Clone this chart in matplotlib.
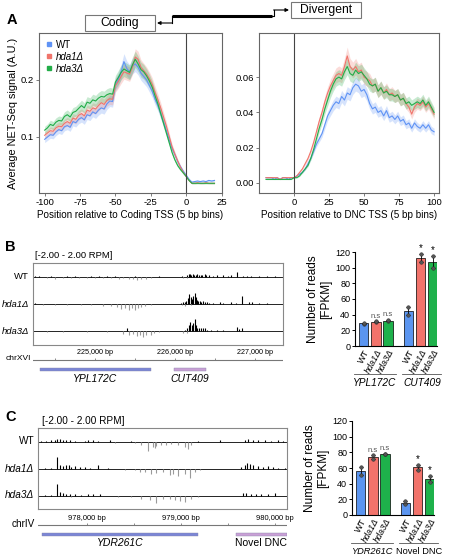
import matplotlib
matplotlib.use("Agg")
import matplotlib.pyplot as plt
import matplotlib.transforms as mtrans
from matplotlib.lines import Line2D
import numpy as np

plt.rcParams['font.family'] = ['Liberation Sans', 'DejaVu Sans']
plt.rcParams['axes.unicode_minus'] = False

# ---------------- data ----------------
strains = ['WT', 'hda1Δ', 'hda3Δ']
colors = ['#5f93f5', '#f0746b', '#22ad48']
bar_colors = ['#5b95f0', '#f2736b', '#1eb14b']

coding_bins = np.arange(-100, 21, 2)
coding_wt = [0.096, 0.100, 0.104, 0.103, 0.109, 0.113, 0.111, 0.118, 0.120, 0.117,
             0.127, 0.125, 0.131, 0.134, 0.130, 0.139, 0.137, 0.144, 0.141, 0.147,
             0.151, 0.149, 0.158, 0.163, 0.162, 0.192, 0.200, 0.214, 0.232, 0.220,
             0.214, 0.224, 0.228, 0.222, 0.212, 0.206, 0.200, 0.190, 0.180, 0.166,
             0.155, 0.141, 0.126, 0.111, 0.095, 0.080, 0.069, 0.057, 0.048, 0.040,
             0.033, 0.026, 0.021, 0.022, 0.023, 0.022, 0.023, 0.022, 0.024, 0.023, 0.024]
coding_hda1 = [0.103, 0.107, 0.111, 0.110, 0.116, 0.119, 0.118, 0.124, 0.127, 0.124,
               0.133, 0.131, 0.138, 0.141, 0.137, 0.147, 0.145, 0.151, 0.149, 0.155,
               0.160, 0.157, 0.164, 0.167, 0.166, 0.190, 0.197, 0.206, 0.214, 0.212,
               0.210, 0.222, 0.240, 0.236, 0.222, 0.216, 0.210, 0.202, 0.192, 0.178,
               0.165, 0.151, 0.135, 0.119, 0.101, 0.083, 0.070, 0.058, 0.047, 0.038,
               0.031, 0.024, 0.019, 0.019, 0.020, 0.019, 0.019, 0.020, 0.019, 0.019, 0.019]
coding_hda3 = [0.112, 0.116, 0.122, 0.120, 0.126, 0.129, 0.128, 0.136, 0.139, 0.135,
               0.143, 0.145, 0.150, 0.155, 0.151, 0.161, 0.159, 0.165, 0.163, 0.168,
               0.171, 0.170, 0.174, 0.176, 0.175, 0.196, 0.204, 0.213, 0.219, 0.216,
               0.213, 0.226, 0.236, 0.228, 0.218, 0.214, 0.207, 0.198, 0.187, 0.172,
               0.158, 0.141, 0.124, 0.107, 0.090, 0.073, 0.060, 0.050, 0.043, 0.037,
               0.031, 0.024, 0.019, 0.019, 0.019, 0.019, 0.019, 0.019, 0.019, 0.019, 0.019]

dnc_bins = np.arange(-20, 101, 2)
dnc_wt = [0.003, 0.003, 0.003, 0.002, 0.003, 0.002, 0.003, 0.003, 0.002, 0.003,
          0.003, 0.004, 0.005, 0.006, 0.008, 0.011, 0.014, 0.018, 0.022, 0.025,
          0.028, 0.033, 0.038, 0.041, 0.044, 0.046, 0.045, 0.049, 0.047, 0.051,
          0.050, 0.054, 0.056, 0.055, 0.052, 0.053, 0.050, 0.045, 0.042, 0.043,
          0.040, 0.041, 0.038, 0.041, 0.037, 0.038, 0.036, 0.038, 0.035, 0.036,
          0.033, 0.034, 0.031, 0.034, 0.032, 0.031, 0.033, 0.031, 0.033, 0.030, 0.029]
dnc_hda1 = [0.003, 0.003, 0.003, 0.003, 0.003, 0.002, 0.003, 0.003, 0.003, 0.003,
            0.003, 0.004, 0.006, 0.008, 0.011, 0.014, 0.018, 0.023, 0.029, 0.035,
            0.040, 0.046, 0.051, 0.055, 0.058, 0.061, 0.062, 0.061, 0.066, 0.072,
            0.066, 0.064, 0.066, 0.063, 0.064, 0.060, 0.059, 0.058, 0.055, 0.056,
            0.052, 0.054, 0.051, 0.053, 0.050, 0.051, 0.049, 0.050, 0.047, 0.048,
            0.045, 0.043, 0.039, 0.043, 0.045, 0.044, 0.046, 0.043, 0.045, 0.042, 0.039]
dnc_hda3 = [0.002, 0.002, 0.002, 0.002, 0.002, 0.002, 0.002, 0.002, 0.002, 0.002,
            0.003, 0.003, 0.004, 0.006, 0.008, 0.010, 0.014, 0.019, 0.025, 0.031,
            0.036, 0.042, 0.047, 0.052, 0.056, 0.059, 0.060, 0.059, 0.063, 0.066,
            0.062, 0.061, 0.064, 0.062, 0.063, 0.061, 0.059, 0.056, 0.055, 0.056,
            0.052, 0.054, 0.051, 0.052, 0.050, 0.050, 0.049, 0.050, 0.047, 0.048,
            0.045, 0.046, 0.044, 0.045, 0.046, 0.045, 0.047, 0.044, 0.046, 0.043, 0.040]

# genome browser tracks: (bp position, RPM)
b_wt = [(224250, 0.15), (224300, 0.1), (224400, -0.15), (224450, 0.06), (224500, -0.3),
        (224600, -0.2), (224650, 0.08), (224700, -0.15), (224750, 0.05), (224800, -0.2),
        (224900, -0.15), (224950, 0.06), (225000, -0.2), (225050, 0.08), (225100, -0.15),
        (225150, 0.06), (225200, -0.25), (225250, 0.07), (225300, -0.3), (225350, -0.2),
        (225420, -0.4), (225480, -0.3), (225500, 0.08), (225530, -0.5), (225580, -0.35),
        (225640, -0.3), (225700, -0.2), (225800, 0.06), (226090, 0.12), (226100, -0.15),
        (226150, 0.2), (226155, -0.25), (226170, 0.35), (226185, 0.45), (226200, 0.3),
        (226220, 0.35), (226240, 0.3), (226260, 0.3), (226280, 0.35), (226300, 0.3),
        (226320, 0.3), (226340, 0.25), (226370, 0.4), (226390, 0.3), (226430, 0.2),
        (226480, 0.15), (226500, -0.1), (226530, 0.2), (226600, 0.25), (226660, 0.15),
        (226700, 0.2), (226770, 0.75), (226800, -0.1), (226850, 0.1), (226900, 0.15),
        (226950, 0.1), (227050, 0.1), (227100, -0.1), (227150, 0.1), (227250, 0.1)]
b_hda1 = [(224250, 0.1), (224350, -0.1), (224420, 0.05), (224500, -0.15), (224650, -0.1),
          (224800, 0.06), (224820, -0.15), (224950, -0.2), (225020, 0.05), (225100, -0.25),
          (225200, -0.3), (225280, -0.5), (225330, -0.7), (225380, -0.6), (225420, -0.85),
          (225460, -0.65), (225500, -0.9), (225540, -0.6), (225580, -0.5), (225600, 0.05),
          (225630, -0.35), (225700, -0.2), (225850, 0.05), (226080, 0.1), (226090, -0.2),
          (226100, 0.25), (226120, 0.3), (226130, -0.35), (226140, 0.5), (226160, 0.9),
          (226180, 1.45), (226195, 1.0), (226200, -0.15), (226210, 0.8), (226230, 1.25),
          (226246, 1.7), (226260, 1.1), (226275, 0.6), (226290, 0.45), (226310, 0.4),
          (226330, 0.35), (226350, 0.4), (226370, 0.3), (226400, 0.25), (226430, 0.2),
          (226470, 0.15), (226560, 0.25), (226600, 0.15), (226700, 0.35), (226760, 0.15),
          (226837, 1.2), (226920, 0.25), (226960, 0.3), (227050, 0.1), (227150, 0.1)]
b_hda3 = [(224250, 0.1), (224400, -0.1), (224500, 0.05), (224600, -0.1), (224700, 0.05),
          (224900, -0.1), (225100, 0.05), (225150, -0.15), (225350, -0.35), (225400, 0.45),
          (225420, -0.5), (225470, -0.4), (225520, -0.7), (225560, -0.55), (225600, -0.8),
          (225640, -0.5), (225700, -0.6), (225740, -0.3), (225800, -0.15), (226080, 0.1),
          (226100, -0.2), (226120, 0.25), (226150, 0.55), (226155, -0.3), (226170, 0.9),
          (226192, 1.45), (226210, 0.9), (226230, 1.2), (226246, 1.85), (226265, 0.9),
          (226280, 0.5), (226300, 0.55), (226320, 0.45), (226345, 0.5), (226370, 0.45),
          (226400, 0.2), (226450, 0.15), (226520, 0.15), (226600, 0.2), (226780, 0.6),
          (226800, 0.35), (226840, 0.5), (226900, 0.1), (227000, 0.1), (227150, 0.1)]

c_wt = [(977514, 0.1), (977568, 0.15), (977621, 0.2), (977656, 0.3), (977685, 0.4),
        (977709, 0.35), (977745, 0.3), (977780, 0.25), (977816, 0.2), (977869, 0.15),
        (977975, 0.15), (978011, 0.3), (978064, 0.2), (978117, 0.15), (978241, 0.2),
        (978295, -0.3), (978472, 0.1), (978507, -0.2), (978578, -0.5), (978649, -1.5),
        (978702, -0.9), (978720, -1.0), (978738, -0.7), (978791, -0.6), (978844, -0.5),
        (978897, -0.4), (978968, -0.5), (979039, -0.8), (979075, -1.1), (979110, -0.6),
        (979181, 0.1), (979412, 0.2), (979677, 0.3), (979713, 0.35), (979766, 0.25),
        (979819, 0.2), (979890, 0.2), (979961, 0.15), (980032, 0.2), (980085, 0.1)]
c_hda1 = [(977550, 0.1), (977621, 0.15), (977681, 1.7), (977709, 0.6), (977745, 0.4),
          (977780, 0.6), (977805, 0.5), (977834, 0.3), (977869, 0.35), (977922, 0.2),
          (977975, 0.2), (978029, 0.15), (978117, 0.5), (978224, 0.15), (978401, -0.2),
          (978507, -0.3), (978560, -0.6), (978614, -0.5), (978685, -0.9), (978738, -0.7),
          (978809, -0.6), (978880, -1.0), (978915, -0.8), (978968, -1.1), (979039, -0.9),
          (979092, -1.4), (979146, -0.5), (979199, -0.3), (979642, 0.3), (979677, 0.55),
          (979706, 0.9), (979731, 0.7), (979766, 0.5), (979819, 0.45), (979873, 0.3),
          (979926, 0.35), (979979, 0.25), (980032, 0.15), (980103, 0.1)]
c_hda3 = [(977550, 0.1), (977621, 0.15), (977681, 1.7), (977709, 0.5), (977745, 0.35),
          (977780, 0.3), (977816, 0.25), (977830, -0.3), (977869, 0.2), (977940, 0.15),
          (978011, 0.2), (978064, 0.2), (978135, 0.3), (978330, -0.2), (978472, -0.3),
          (978578, -0.5), (978667, -0.7), (978738, -1.2), (978809, -0.6), (978880, -0.5),
          (978933, -0.7), (978986, -0.9), (979039, -1.0), (979110, -0.5), (979181, -0.2),
          (979660, 0.35), (979695, 0.4), (979748, 0.3), (979802, 0.3), (979855, 0.25),
          (979926, 0.2), (979997, 0.35)]

b_genes = [('YPL172C', 224312, 225700, '#7b86d6'), ('CUT409', 225987, 226387, '#c9a0d6')]
c_genes = [('YDR261C', 977521, 979181, '#7b86d6'), ('Novel DNC', 979585, 980128, '#c9a0d6')]

# bar charts (FPKM), two replicates per bar
b_groups = ['YPL172C', 'CUT409']
b_reps = [[27.5, 30.0], [31.0, 31.5], [31.5, 33.5], [39.5, 50.0], [107.0, 118.0], [99.0, 115.0]]
c_groups = ['YDR261C', 'Novel DNC']
c_reps = [[51.0, 61.5], [71.5, 76.5], [77.5, 78.0], [13.6, 18.0], [57.5, 64.0], [41.7, 50.0]]

# ---------------- layout ----------------
W, H = 450, 559
fig = plt.figure(figsize=(4.5, 5.59), dpi=100)


def rect(x0, y0, x1, y1):
    return [x0 / W, 1 - y1 / H, (x1 - x0) / W, (y1 - y0) / H]


def profile(ax, x, series, frac):
    for name, y, c in zip(strains, series, colors):
        y = np.asarray(y)
        ax.fill_between(x, y * (1 - frac), y * (1 + frac), color=c, alpha=0.25, lw=0)
        ax.plot(x, y, color=c, lw=0.8, label=name)
    ax.axvline(0, color='#444444', lw=0.8)
    for s in ax.spines.values():
        s.set_color('#666666')
        s.set_linewidth(0.8)
    ax.tick_params(labelsize=6.8, length=2, width=0.6, color='#666666', pad=1.5)


axA1 = fig.add_axes(rect(39, 33, 222, 193))
profile(axA1, coding_bins, [coding_wt, coding_hda1, coding_hda3], 0.06)
axA1.set_xlim(-104, 25.3)
axA1.set_ylim(0.002, 0.282)
axA1.set_xticks([-100, -75, -50, -25, 0, 25])
axA1.set_yticks([0.1, 0.2])
axA1.set_ylabel('Average NET-Seq signal (A.U.)', fontsize=7.8, labelpad=2)
axA1.set_xlabel('Position relative to Coding TSS (5 bp bins)', fontsize=7.1, labelpad=2)
handles = [Line2D([], [], ls='', marker='s', ms=2.5, color=c) for c in colors]
leg = axA1.legend(handles, strains, loc='upper left', frameon=False, fontsize=7,
                  handlelength=0.6, handletextpad=0.4, labelspacing=0.2,
                  borderaxespad=0.3)
for t in leg.get_texts()[1:]:
    t.set_style('italic')

axA2 = fig.add_axes(rect(259, 33, 439, 193))
profile(axA2, dnc_bins, [dnc_wt, dnc_hda1, dnc_hda3], 0.07)
axA2.set_xlim(-25, 103.5)
axA2.set_ylim(-0.0057, 0.085)
axA2.set_xticks([0, 25, 50, 75, 100])
axA2.set_yticks([0.0, 0.02, 0.04, 0.06])
axA2.set_yticklabels(['0.00', '0.02', '0.04', '0.06'])
axA2.set_xlabel('Position relative to DNC TSS (5 bp bins)', fontsize=7.1, labelpad=2)


def tracks(ax, data, xlim, fs):
    row = 4.1
    tr = mtrans.blended_transform_factory(ax.transAxes, ax.transData)
    for i, (name, pairs) in enumerate(zip(strains, data)):
        base = -(i + 0.5) * row
        pos = np.array([p for p, v in pairs])
        val = np.array([v for p, v in pairs])
        ax.axhline(base, color='k', lw=0.6)
        up = val > 0
        ax.vlines(pos[up], base, base + val[up], color='k', lw=0.8)
        ax.vlines(pos[~up], base, base + val[~up], color='#9a9a9a', lw=0.8)
        ax.text(-0.015, base, name, transform=tr, ha='right', va='center', fontsize=fs,
                style='normal' if i == 0 else 'italic')
    ax.set_xlim(xlim)
    ax.set_ylim(-3 * row, 0)
    ax.set_xticks([])
    ax.set_yticks([])
    for s in ax.spines.values():
        s.set_color('#888888')
        s.set_linewidth(0.8)


def ruler(ax, xlim, majors, minors, genes, lab_y, fs_tick, fs_gene):
    ax.set_xlim(xlim)
    ax.set_ylim(40, 0)
    ax.axis('off')
    ax.plot(xlim, [11.5, 11.5], color='#777777', lw=0.8)
    ax.vlines(majors + minors, 10, 11.5, color='#777777', lw=0.6)
    for m in majors:
        ax.text(m, lab_y, f'{m:,} bp', ha='center', va='center', fontsize=fs_tick)
    for name, g0, g1, c in genes:
        ax.add_patch(plt.Rectangle((g0, 19.5), g1 - g0, 3, facecolor=c,
                                   edgecolor='#8888aa', lw=0.3))
        ax.text((g0 + g1) / 2, 30.5, name, ha='center', va='center', fontsize=fs_gene,
                style='normal' if name.startswith('Novel') else 'italic')


b_xlim = (224225, 227350)
axB = fig.add_axes(rect(33, 263, 283, 345))
tracks(axB, [b_wt, b_hda1, b_hda3], b_xlim, 6.8)
axBr = fig.add_axes(rect(33, 348, 283, 388))
ruler(axBr, b_xlim, [225000, 226000, 227000], [224500, 225500, 226500], b_genes,
      4.0, 5.2, 7.5)

c_xlim = (977479, 980128)
axC = fig.add_axes(rect(38, 428, 287, 509))
tracks(axC, [c_wt, c_hda1, c_hda3], c_xlim, 7.2)
axCr = fig.add_axes(rect(38, 513, 287, 553))
ruler(axCr, c_xlim, [978000, 979000, 980000], [978500, 979500], c_genes,
      5.5, 5.4, 7.5)


def bars(ax, reps, groups, marks, gfs):
    xpos = [0, 1, 2, 3.7, 4.7, 5.7]
    reps = np.array(reps)
    means = reps.mean(axis=1)
    sems = np.abs(reps[:, 1] - reps[:, 0]) / 2
    ax.bar(xpos, means, width=0.8, color=bar_colors * 2, edgecolor='k', lw=0.5, zorder=2)
    ax.errorbar(xpos, means, yerr=sems, fmt='none', ecolor='k', elinewidth=0.6,
                capsize=1.5, capthick=0.6, zorder=3)
    for x, r in zip(xpos, reps):
        ax.plot([x, x], r, 'o', ms=2.6, mfc='#555555', mec='#222222', mew=0.3, zorder=4)
    for x, m, s, mk in zip(xpos, means, sems, marks):
        if mk == 'n.s':
            ax.text(x, m + s + 2, 'n.s', ha='center', va='bottom', fontsize=5.5,
                    color='#555555')
        elif mk == '*':
            ax.text(x, m + s + 1, '*', ha='center', va='bottom', fontsize=7)
    ax.set_xlim(-0.7, 6.05)
    ax.set_ylim(0, 120)
    ax.set_yticks(range(0, 121, 20))
    ax.spines[['top', 'right']].set_visible(False)
    for s in ax.spines.values():
        s.set_linewidth(0.8)
    ax.tick_params(axis='y', labelsize=6.5, length=2.5, width=0.7, pad=1)
    ax.tick_params(axis='x', length=0, pad=1.5)
    ax.set_xticks(xpos)
    ax.set_xticklabels(strains * 2, rotation=62, ha='right', rotation_mode='anchor',
                       fontsize=6.5)
    for i, t in enumerate(ax.get_xticklabels()):
        if i % 3:
            t.set_style('italic')
    ax.set_ylabel('Number of reads\n[FPKM]', fontsize=8.5, labelpad=2, linespacing=1.1)
    tr = mtrans.blended_transform_factory(ax.transData, ax.transAxes)
    for (g0, g1), name in zip([(-0.8, 2.65), (3.2, 6.4)], groups):
        ax.plot([g0, g1], [-0.30, -0.30], color='#555555', lw=0.6, transform=tr,
                clip_on=False)
        ax.text((g0 + g1) / 2, -0.39, name, transform=tr, ha='center', va='center',
                fontsize=gfs, style='normal' if name.startswith('Novel') else 'italic')


axBb = fig.add_axes(rect(355, 252, 437, 346))
bars(axBb, b_reps, b_groups, ['', 'n.s', 'n.s', '', '*', '*'], 7.3)
axCb = fig.add_axes(rect(352, 421, 434, 515))
bars(axCb, c_reps, c_groups, ['', 'n.s', 'n.s', '', '*', '*'], 6.7)

# ---------------- overlay: letters, boxes, arrows ----------------
ov = fig.add_axes([0, 0, 1, 1])
ov.set_xlim(0, W)
ov.set_ylim(H, 0)
ov.axis('off')
for lab, x, y in [('A', 12, 20), ('B', 10, 247), ('C', 11, 417)]:
    ov.text(x, y, lab, fontsize=10.5, fontweight='bold', ha='center', va='center')
ov.text(35, 255, '[-2.00 - 2.00 RPM]', fontsize=6.8, va='center')
ov.text(42, 421, '[-2.00 - 2.00 RPM]', fontsize=7.2, va='center')
ov.text(31, 358.5, 'chrXVI', fontsize=6, ha='right', va='center')
ov.text(35, 524, 'chrIV', fontsize=7.2, ha='right', va='center')

ov.add_patch(plt.Rectangle((85, 15), 70, 16, fill=False, ec='#777777', lw=0.8))
ov.text(120, 23, 'Coding', fontsize=8.7, ha='center', va='center')
ov.add_patch(plt.Rectangle((291, 2), 70, 16, fill=False, ec='#777777', lw=0.8))
ov.text(326, 10, 'Divergent', fontsize=8.7, ha='center', va='center')
ov.plot([172, 272], [15.5, 15.5], color='k', lw=2.2, solid_capstyle='butt')
ov.plot([172, 172], [15.5, 23], color='k', lw=0.8)
ov.annotate('', xy=(157, 23), xytext=(172.4, 23),
            arrowprops=dict(arrowstyle='-|>', lw=0.8, color='k', mutation_scale=5,
                            shrinkA=0, shrinkB=0))
ov.plot([272, 274, 274], [15.5, 15.5, 10], color='k', lw=0.8)
ov.annotate('', xy=(289, 10), xytext=(273.6, 10),
            arrowprops=dict(arrowstyle='-|>', lw=0.8, color='k', mutation_scale=5,
                            shrinkA=0, shrinkB=0))

fig.savefig('out.png', dpi=100)
